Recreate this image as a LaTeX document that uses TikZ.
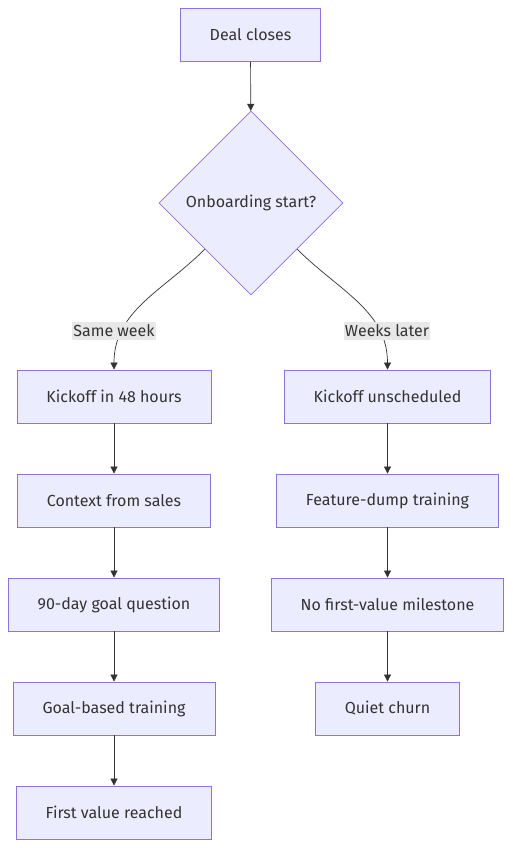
\documentclass[tikz,border=0pt]{standalone}
\usepackage{fontspec}
\setmainfont{Fira Sans}
\usetikzlibrary{arrows.meta, positioning, shapes.geometric}
\definecolor{boxfill}{HTML}{ECECFF}
\definecolor{boxline}{HTML}{9370DB}
\definecolor{inkgray}{HTML}{333333}
\definecolor{lblfill}{HTML}{E8E8E8}

\begin{document}
\begin{tikzpicture}[
  x=1pt, y=-1pt,
  node distance=50.2pt,
  box/.style={draw=boxline, fill=boxfill, line width=0.8pt, minimum height=53pt, inner xsep=29.5pt, text=inkgray, font=\fontsize{16}{19}\selectfont},
  decision/.style={diamond, aspect=1, draw=boxline, fill=boxfill, line width=0.8pt, minimum width=184pt, minimum height=184pt, inner sep=0pt, text=inkgray, font=\fontsize{16}{19}\selectfont},
  lbl/.style={fill=lblfill, text=inkgray, inner xsep=1pt, inner ysep=3pt, font=\fontsize{16}{19}\selectfont},
  arrow/.style={-{Triangle[length=7pt, width=7pt]}, inkgray, line width=0.7pt}
]
  \useasboundingbox (0,0) rectangle (512,848);

  \node[box] (deal) at (250.5,35) {Deal closes};
  \node[decision] (start) at (251,203) {Onboarding start?};

  % fast path
  \node[box] (kick) at (114,396.5) {Kickoff in 48 hours};
  \node[box, below=of kick] (context) {Context from sales};
  \node[box, below=of context] (goalq) {90-day goal question};
  \node[box, below=of goalq] (goaltrain) {Goal-based training};
  \node[box, below=of goaltrain] (value) {First value reached};

  % slow path
  \node[box] (unsched) at (387.5,396.5) {Kickoff unscheduled};
  \node[box, below=of unsched] (dump) {Feature-dump training};
  \node[box, below=of dump] (nomile) {No first-value milestone};
  \node[box, below=of nomile] (churn) {Quiet churn};

  \draw[arrow] (deal) -- (start);
  \draw[arrow] (start.south west) to[out=225, in=90] (kick.north);
  \draw[arrow] (start.south east) to[out=-45, in=90] (unsched.north);

  \node[lbl] (same) at (114,331) {Same week};
  \node[lbl] (later) at (387,331) {Weeks later};

  \draw[arrow] (kick) -- (context);
  \draw[arrow] (context) -- (goalq);
  \draw[arrow] (goalq) -- (goaltrain);
  \draw[arrow] (goaltrain) -- (value);

  \draw[arrow] (unsched) -- (dump);
  \draw[arrow] (dump) -- (nomile);
  \draw[arrow] (nomile) -- (churn);
\end{tikzpicture}
\end{document}
